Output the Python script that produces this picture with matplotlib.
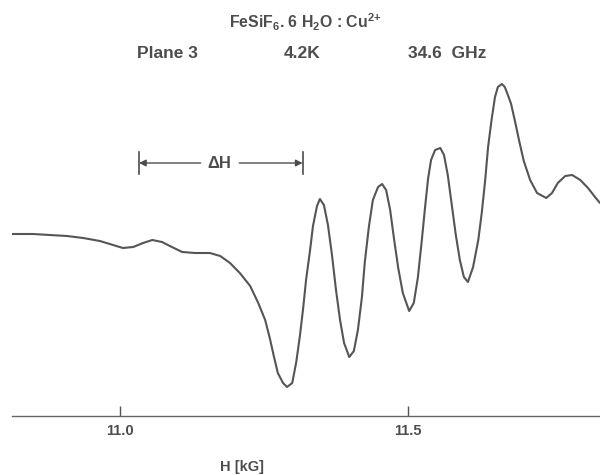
import matplotlib
matplotlib.use("Agg")
import matplotlib.pyplot as plt

# ---- data (field H in kG, signal in arbitrary units) ----
field_kG = [10.8125, 10.849, 10.878, 10.908, 10.936, 10.965, 10.988, 11.005,
            11.023, 11.040, 11.056, 11.073, 11.090, 11.108, 11.130, 11.156,
            11.174, 11.191, 11.208, 11.226, 11.240, 11.252, 11.260, 11.267,
            11.274, 11.283, 11.290, 11.299, 11.306, 11.3125, 11.318, 11.323,
            11.330, 11.335, 11.342, 11.347, 11.354, 11.361, 11.368, 11.375,
            11.382, 11.389, 11.398, 11.406, 11.413, 11.420, 11.425, 11.432,
            11.439, 11.448, 11.455, 11.462, 11.469, 11.476, 11.483, 11.491,
            11.502, 11.510, 11.517, 11.524, 11.530, 11.535, 11.540, 11.547,
            11.556, 11.5625, 11.569, 11.576, 11.583, 11.590, 11.597, 11.604,
            11.613, 11.622, 11.628, 11.634, 11.639, 11.645, 11.651, 11.656,
            11.663, 11.668, 11.674, 11.679, 11.686, 11.693, 11.701, 11.712,
            11.724, 11.740, 11.750, 11.760, 11.773, 11.785, 11.799, 11.8125,
            11.826, 11.8333]
signal = [18.2, 18.2, 18.1, 18.0, 17.8, 17.5, 17.1, 16.8,
          16.9, 17.3, 17.6, 17.4, 16.9, 16.4, 16.3, 16.3,
          16.0, 15.3, 14.3, 13.0, 11.3, 9.6, 7.8, 6.0,
          4.3, 3.3, 2.9, 3.3, 5.4, 8.1, 10.8, 13.6,
          16.6, 19.0, 21.0, 21.7, 21.1, 19.1, 16.1, 12.6,
          9.6, 7.3, 5.9, 6.5, 8.6, 11.9, 15.4, 18.9,
          21.6, 22.9, 23.2, 22.6, 20.6, 17.6, 14.8, 12.3,
          10.5, 11.3, 13.8, 17.6, 21.1, 23.8, 25.6, 26.6,
          26.8, 26.1, 24.1, 21.1, 18.1, 15.6, 13.9, 13.4,
          14.9, 17.6, 20.3, 23.6, 26.9, 29.6, 31.9, 32.9,
          33.2, 32.9, 32.0, 31.2, 29.4, 27.5, 25.5, 23.6,
          22.3, 21.8, 22.3, 23.3, 24.0, 24.1, 23.6, 22.8,
          21.8, 21.3]

delta_H_start = 11.033   # kG, left bar of the ΔH marker
delta_H_end = 11.317     # kG, right bar of the ΔH marker
delta_H_level = 25.3     # signal level of the ΔH marker
tick_values = [11.0, 11.5]
tick_labels = ["11.0", "11.5"]
# ---------------------------------------------------------------------------

plt.rcParams['font.family'] = ['Liberation Sans', 'DejaVu Sans']
plt.rcParams['mathtext.fontset'] = 'custom'
plt.rcParams['mathtext.rm'] = 'Liberation Sans:bold'
plt.rcParams['mathtext.it'] = 'Liberation Sans:bold'
plt.rcParams['mathtext.bf'] = 'Liberation Sans:bold'
plt.rcParams['mathtext.default'] = 'rm'

ink = '#4d4d4d'
W, Hpx = 600, 475
fig = plt.figure(figsize=(6.0, 4.75), dpi=100)
ax = fig.add_axes([12 / W, (Hpx - 416) / Hpx, 588 / W, (416 - 60) / Hpx])

ax.plot(field_kG, signal, color='#555555', lw=1.5,
        solid_joinstyle='round', solid_capstyle='round')
ax.set_xlim(10.8125, 11.8333)
ax.set_ylim(0, 35.6)

for side in ('top', 'right', 'left'):
    ax.spines[side].set_visible(False)
ax.spines['bottom'].set_color('#666666')
ax.spines['bottom'].set_linewidth(1.0)
ax.set_yticks([])
ax.set_xticks(tick_values)
ax.set_xticklabels(tick_labels, fontsize=10.5, fontweight='bold', color=ink)
ax.tick_params(axis='x', direction='in', length=7, width=1.0, color='#555555', pad=6)

# ΔH marker
bar_h = 1.1
for x in (delta_H_start, delta_H_end):
    ax.plot([x, x], [delta_H_level - bar_h, delta_H_level + bar_h], color=ink, lw=1.2)
mid = 0.5 * (delta_H_start + delta_H_end)
ax.text(mid - 0.003, delta_H_level, 'ΔH', ha='center', va='center',
        fontsize=12, fontweight='bold', color=ink)
ax.annotate('', xy=(delta_H_start, delta_H_level), xytext=(mid - 0.035, delta_H_level),
            arrowprops=dict(arrowstyle='-|>', color=ink, lw=1.0,
                            mutation_scale=10, shrinkA=0, shrinkB=0))
ax.annotate('', xy=(delta_H_end, delta_H_level), xytext=(mid + 0.032, delta_H_level),
            arrowprops=dict(arrowstyle='-|>', color=ink, lw=1.0,
                            mutation_scale=10, shrinkA=0, shrinkB=0))

# header texts
fig.text(305 / W, 1 - 22 / Hpx, r'FeSiF$_{6}$. 6 H$_{2}$O : Cu$^{2{+}}$', ha='center', va='center',
         fontsize=11.4, fontweight='bold', color=ink)
fig.text(167 / W, 1 - 53 / Hpx, 'Plane 3', ha='center', va='center',
         fontsize=12.5, fontweight='bold', color=ink)
fig.text(302 / W, 1 - 53 / Hpx, '4.2K', ha='center', va='center',
         fontsize=12.5, fontweight='bold', color=ink)
fig.text(447 / W, 1 - 53 / Hpx, '34.6  GHz', ha='center', va='center',
         fontsize=12.5, fontweight='bold', color=ink)

# axis label
fig.text(242 / W, 1 - 467 / Hpx, 'H [kG]', ha='center', va='center',
         fontsize=10.5, fontweight='bold', color=ink)

fig.savefig('out.png', dpi=100, facecolor='white')
